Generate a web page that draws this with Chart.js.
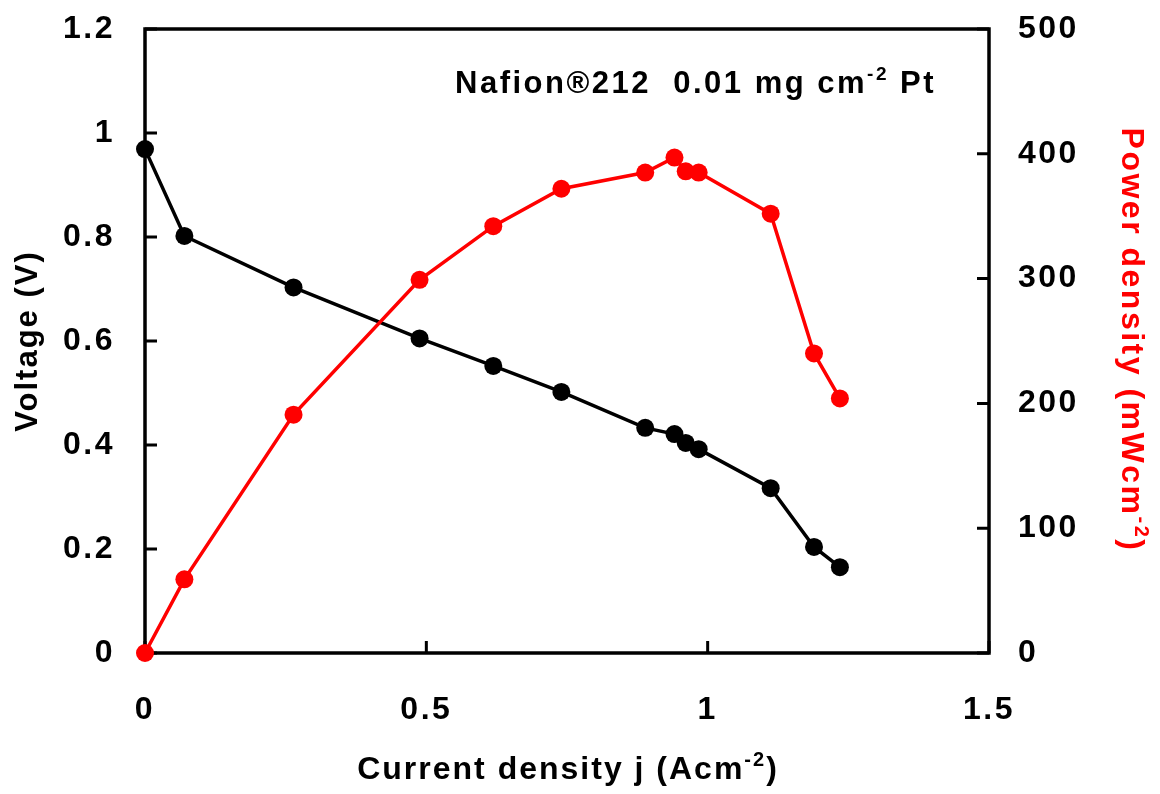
<!DOCTYPE html>
<html lang="en">
<head>
    <meta charset="UTF-8">
    <title>Nafion 212 polarization curve</title>
    <style>
        body { margin: 0; background: #fff; }
        canvas { display: block; }
    </style>
</head>
<body>
      <canvas id="myChart" width="1160" height="794"></canvas>
      <script src="https://cdn.jsdelivr.net/npm/chart.js"></script>
      <script>
          // values
          let currentDensity = [0, 0.07, 0.264, 0.488, 0.619, 0.74, 0.889, 0.941, 0.961, 0.984, 1.112, 1.189, 1.235];
          let voltage = [0.969, 0.802, 0.703, 0.605, 0.552, 0.502, 0.433, 0.421, 0.404, 0.392, 0.317, 0.204, 0.165];
          let powerDensity = [0, 59, 191, 299, 342, 372, 385, 397, 386, 385, 352, 240, 204];

          let xTicks = [0, 0.5, 1, 1.5];
          let voltTicks = [0, 0.2, 0.4, 0.6, 0.8, 1, 1.2];
          let powerTicks = [0, 100, 200, 300, 400, 500];

          let FONT = "'Liberation Sans', Arial, sans-serif";

          // text with superscripts: parts = [[text, isSup], ...]
          function drawRich(ctx, parts, x, y, size, spacing, align) {
              ctx.letterSpacing = spacing + 'px';
              let widths = parts.map(p => {
                  ctx.font = 'bold ' + (p[1] ? Math.round(size * 0.62) : size) + 'px ' + FONT;
                  return ctx.measureText(p[0]).width;
              });
              let total = widths.reduce((a, b) => a + b, 0);
              let cx = align === 'center' ? x - total / 2 : x;
              ctx.textAlign = 'left';
              ctx.textBaseline = 'alphabetic';
              parts.forEach((p, i) => {
                  ctx.font = 'bold ' + (p[1] ? Math.round(size * 0.62) : size) + 'px ' + FONT;
                  ctx.fillText(p[0], cx, p[1] ? y - size * 0.42 : y);
                  cx += widths[i];
              });
              ctx.letterSpacing = '0px';
          }

          let framePlugin = {
              id: 'frame',
              beforeDraw(chart) {
                  // the reference lettering is a little wider than the font
                  chart.ctx.letterSpacing = '2.5px';
              },
              beforeDatasetsDraw(chart) {
                  let ctx = chart.ctx;
                  let a = chart.chartArea;
                  let s = chart.scales;
                  ctx.save();
                  ctx.strokeStyle = '#000';
                  ctx.lineWidth = 3.5;
                  ctx.strokeRect(a.left, a.top, a.right - a.left, a.bottom - a.top);
                  ctx.lineWidth = 3;
                  ctx.beginPath();
                  xTicks.forEach(v => {
                      let px = s.x.getPixelForValue(v);
                      ctx.moveTo(px, a.bottom);
                      ctx.lineTo(px, a.bottom - 12);
                  });
                  voltTicks.forEach(v => {
                      let py = s.yV.getPixelForValue(v);
                      ctx.moveTo(a.left, py);
                      ctx.lineTo(a.left + 12, py);
                  });
                  powerTicks.forEach(v => {
                      let py = s.yP.getPixelForValue(v);
                      ctx.moveTo(a.right, py);
                      ctx.lineTo(a.right - 12, py);
                  });
                  ctx.stroke();
                  ctx.restore();
              },
              afterDraw(chart) {
                  let ctx = chart.ctx;
                  ctx.save();
                  ctx.fillStyle = '#000';
                  // annotation
                  drawRich(ctx, [['Nafion\u00AE212  0.01 mg cm', false], ['-2', true], [' Pt', false]], 455, 93, 31, 2.5, 'left');
                  // x title
                  drawRich(ctx, [['Current density j (Acm', false], ['-2', true], [')', false]], 568, 779, 32, 2, 'center');
                  // left title
                  ctx.save();
                  ctx.translate(37, 341);
                  ctx.rotate(-Math.PI / 2);
                  drawRich(ctx, [['Voltage (V)', false]], 0, 0, 31, 2, 'center');
                  ctx.restore();
                  // right title
                  ctx.save();
                  ctx.fillStyle = '#ff0000';
                  ctx.translate(1122, 340);
                  ctx.rotate(Math.PI / 2);
                  drawRich(ctx, [['Power density (mWcm', false], ['-2', true], [')', false]], 0, 0, 32, 2.5, 'center');
                  ctx.restore();
                  ctx.restore();
              }
          };

          let tickFont = { family: FONT, size: 32, weight: 'bold' };
          let fmt = v => String(+Number(v).toFixed(2));
          let noOverflow = s => { s.paddingTop = 0; s.paddingBottom = 0; s.paddingLeft = 0; s.paddingRight = 0; };

          let ctx = document.querySelector('#myChart').getContext('2d');
          let myChart = new Chart(ctx, {
              type: 'scatter',
              data: {
                  datasets: [{
                      label: 'Power density',
                      data: currentDensity.map((j, i) => ({ x: j, y: powerDensity[i] })),
                      yAxisID: 'yP',
                      showLine: true,
                      borderColor: '#ff0000',
                      backgroundColor: '#ff0000',
                      borderWidth: 3.5,
                      pointRadius: 9,
                      pointBorderWidth: 0,
                      clip: false
                  }, {
                      label: 'Voltage',
                      data: currentDensity.map((j, i) => ({ x: j, y: voltage[i] })),
                      yAxisID: 'yV',
                      showLine: true,
                      borderColor: '#000',
                      backgroundColor: '#000',
                      borderWidth: 3.5,
                      pointRadius: 9,
                      pointBorderWidth: 0,
                      clip: false
                  }]
              },
              options: {
                  responsive: false,
                  animation: false,
                  devicePixelRatio: 1,
                  layout: { padding: { top: 29, left: 0, right: 0, bottom: 0 } },
                  plugins: { legend: { display: false }, tooltip: { enabled: false } },
                  scales: {
                      x: {
                          type: 'linear',
                          min: 0, max: 1.5,
                          grid: { display: false, drawTicks: false },
                          border: { display: false },
                          ticks: { stepSize: 0.5, padding: 38, color: '#000', font: tickFont, callback: fmt, maxRotation: 0 },
                          afterFit: s => { s.height = 141; noOverflow(s); }
                      },
                      yV: {
                          type: 'linear',
                          position: 'left',
                          min: 0, max: 1.2,
                          grid: { display: false, drawTicks: false },
                          border: { display: false },
                          ticks: { stepSize: 0.2, padding: 30, color: '#000', font: tickFont, callback: fmt },
                          afterFit: s => { s.width = 145; noOverflow(s); }
                      },
                      yP: {
                          type: 'linear',
                          position: 'right',
                          min: 0, max: 500,
                          grid: { display: false, drawTicks: false },
                          border: { display: false },
                          ticks: { stepSize: 100, padding: 29, color: '#000', font: tickFont, callback: fmt },
                          afterFit: s => { s.width = 171; noOverflow(s); }
                      }
                  }
              },
              plugins: [framePlugin]
          });
      </script>
</body>
</html>
